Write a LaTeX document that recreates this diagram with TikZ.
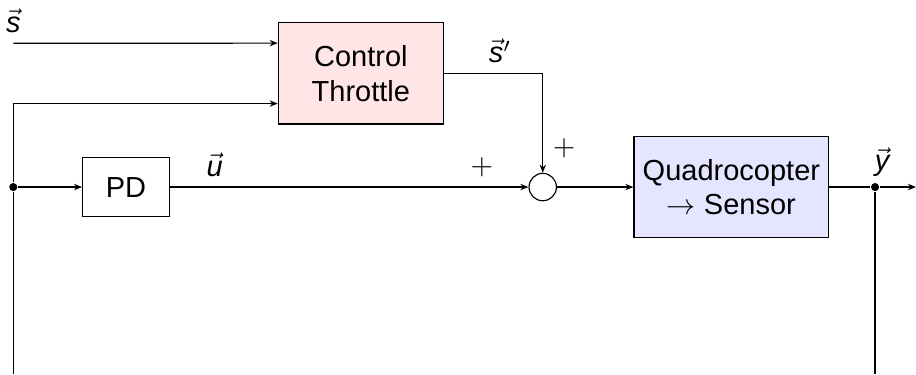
\documentclass[tikz,border=0pt]{standalone}
\usepackage{fontspec}
\setmainfont{Liberation Sans}
\usetikzlibrary{arrows.meta,positioning,calc}
\tikzset{
  blk/.style={rectangle, draw, align=center, inner sep=3pt, minimum height=12.28mm},
  sumpt/.style={circle, draw, inner sep=0pt, minimum size=3.32mm},
  junc/.style={circle, fill, inner sep=0pt, minimum size=2.8pt},
  fl/.style={-{Stealth[length=2.8pt,width=2.2pt]}},
  lbl/.style={inner sep=3.3pt},
}
\newcommand{\vsym}[1]{\ensuremath{\vec{\textit{#1}}}}
\begin{document}
\begin{tikzpicture}
\useasboundingbox (0,0) rectangle (11.10,4.533);
\node[blk, minimum width=20mm, fill=red!10] (ct) at (4.373,3.644) {Control\\Throttle};
\node[blk, minimum width=10.5mm, minimum height=7.2mm] (pd) at (1.527,2.266) {PD};
\node[sumpt] (sum) at (6.577,2.266) {};
\node[blk, minimum width=23.51mm, fill=blue!10] (qs) at (8.863,2.266) {Quadrocopter\\$\rightarrow$ Sensor};
\node[junc] (b1) at (0.161,2.266) {};
\node[junc] (b2) at (10.604,2.266) {};
\coordinate (sin) at (0.161,4.008);
\coordinate (out) at (11.10,2.266);
\coordinate (bl) at (0.161,0);
\coordinate (br) at (10.604,0);
\coordinate (ct1) at ($(ct.west)+(0,0.366)$);
\coordinate (ct2) at ($(ct.west)+(0,-0.366)$);
\draw[fl] (sin) node[lbl,above]{\vsym{s}} -- (ct1);
\draw[fl] (bl) -- (b1) |- (ct2);
\draw[fl] (b1) -- (pd);
\draw[fl] (pd) -- node[lbl,above,pos=0.125]{\vsym{u}} node[lbl,above,pos=0.87]{$+$} (sum);
\draw[fl] (ct.east) -| node[lbl,above,pos=0.285]{\vsym{s}$'$} node[lbl,right,pos=0.875]{$+$} (sum.north);
\draw[fl] (sum) -- (qs);
\draw (qs) -- (b2);
\draw[fl] (b2) -- node[lbl,above,pos=0.07]{\vsym{y}} (out);
\draw (b2) -- (br);
\end{tikzpicture}
\end{document}
